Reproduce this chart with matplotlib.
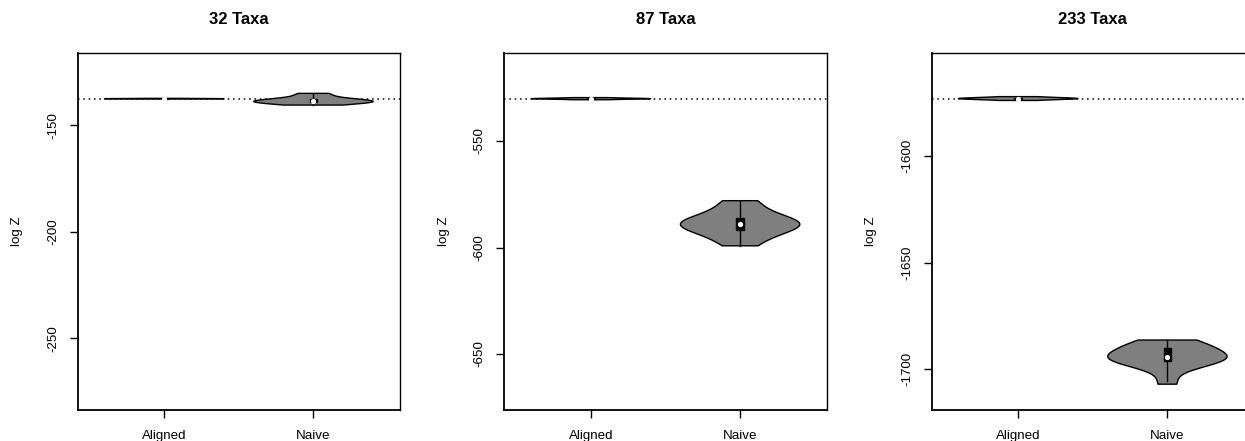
import numpy as np
import matplotlib
matplotlib.use("Agg")
import matplotlib.pyplot as plt
from matplotlib.ticker import MultipleLocator

plt.rcParams["font.family"] = ["Liberation Sans", "DejaVu Sans"]
plt.rcParams["axes.unicode_minus"] = False

# log evidence from repeated runs, one list per method and taxon set
titles = ["32 Taxa", "87 Taxa", "233 Taxa"]
methods = ["Aligned", "Naive"]

aligned_32 = [-137.65, -137.6, -137.56, -137.53, -137.51, -137.50,
              -137.50, -137.49, -137.47, -137.44, -137.40, -137.35]
naive_32 = [-140.5, -139.8, -139.4, -139.2, -139.0, -138.8,
            -138.4, -138.2, -137.7, -137.3, -135.8, -135.0]

aligned_87 = [-530.6, -530.45, -530.3, -530.2, -530.15, -530.1,
              -530.1, -530.05, -530.0, -529.9, -529.75, -529.6]
naive_87 = [-599.2, -596.0, -592.0, -591.75, -590.2, -589.6,
            -588.6, -587.0, -586.5, -585.9, -580.5, -578.0]

aligned_233 = [-1574.0, -1573.7, -1573.5, -1573.35, -1573.2, -1573.1,
               -1573.1, -1573.0, -1572.85, -1572.7, -1572.5, -1572.2]
naive_233 = [-1707.0, -1699.3, -1696.5, -1695.9, -1695.2, -1694.7,
             -1694.1, -1693.0, -1690.0, -1689.6, -1688.0, -1686.3]

groups = [(aligned_32, naive_32), (aligned_87, naive_87), (aligned_233, naive_233)]
ylims = [(-283.7, -116.2), (-676.3, -508.8), (-1719.1, -1551.9)]


def density(vals, grid):
    vals = np.asarray(vals)
    n = len(vals)
    h = np.std(vals, ddof=1) * (4.0 / (3.0 * n)) ** 0.2
    z = (grid[:, None] - vals[None, :]) / h
    return np.exp(-0.5 * z ** 2).sum(axis=1) / (n * h * np.sqrt(2 * np.pi))


def violin(ax, vals, at, wex=1.0, col="#7f7f7f"):
    vals = np.sort(np.asarray(vals, dtype=float))
    grid = np.linspace(vals.min(), vals.max(), 200)
    d = density(vals, grid)
    half = d / d.max() * wex * 0.4
    xs = np.concatenate([at - half, (at + half)[::-1]])
    ys = np.concatenate([grid, grid[::-1]])
    ax.fill(xs, ys, facecolor=col, edgecolor="black", linewidth=1.0, zorder=2)

    q1, med, q3 = np.percentile(vals, [25, 50, 75])
    iqr = q3 - q1
    lo = max(q1 - 1.5 * iqr, vals.min())
    hi = min(q3 + 1.5 * iqr, vals.max())
    ax.plot([at, at], [lo, hi], color="black", linewidth=1.0, zorder=3)
    bw = 0.025
    ax.fill([at - bw, at + bw, at + bw, at - bw], [q1, q1, q3, q3],
            color="black", zorder=4)
    ax.plot(at, med, "o", ms=3.8, mfc="white", mec="none", zorder=5)


fig = plt.figure(figsize=(12.45, 4.41), dpi=100)
lefts = [0.0624, 0.4051, 0.7483]

for k in range(3):
    ax = fig.add_axes([lefts[k], 0.0703, 0.2589, 0.8088])
    aligned, naive = groups[k]
    ax.axhline(np.median(aligned), color="black", linewidth=1.1,
               dashes=(1, 2.5), zorder=1)
    violin(ax, aligned, 1)
    violin(ax, naive, 2)

    ax.set_xlim(0.42, 2.58)
    ax.set_ylim(*ylims[k])
    ax.set_xticks([1, 2])
    ax.set_xticklabels(methods)
    ax.yaxis.set_major_locator(MultipleLocator(50))
    for lab in ax.get_yticklabels():
        lab.set_rotation(90)
        lab.set_va("center")
    ax.tick_params(direction="out", length=6, width=1.0, pad=7.5,
                   labelsize=9.6, colors="black")
    ax.tick_params(axis="x", pad=8.5)
    for s in ax.spines.values():
        s.set_linewidth(1.0)
        s.set_color("black")
    ax.spines["left"].set_linewidth(1.3)
    ax.spines["bottom"].set_linewidth(1.3)

    ax.set_ylabel("log Z", fontsize=9.6)
    ax.yaxis.set_label_coords(-0.17, 0.5)
    ax.set_title(titles[k], fontsize=12, fontweight="bold", pad=21)

fig.savefig("out.png", dpi=100)
